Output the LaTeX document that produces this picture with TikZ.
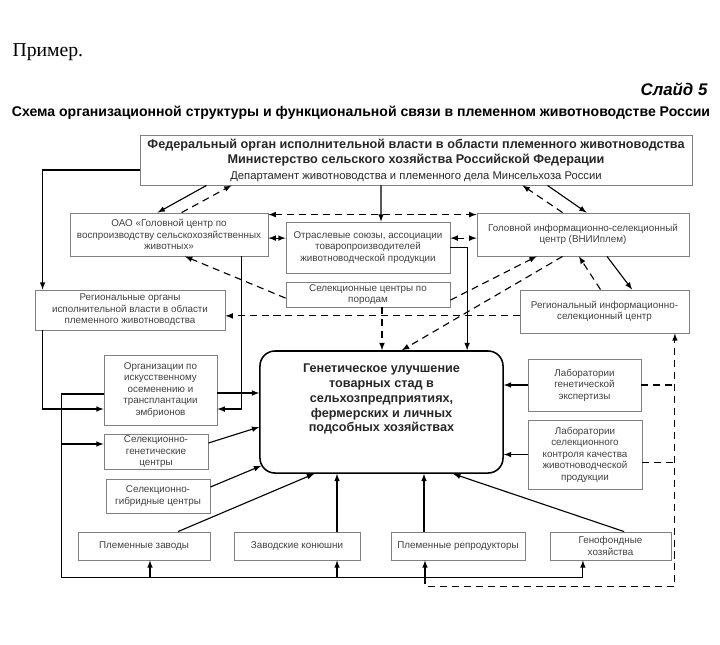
\documentclass[tikz,border=0pt]{standalone}
\usepackage{fontspec}
\setmainfont{Liberation Sans}
\newfontfamily\serifrm{Liberation Serif}
\usetikzlibrary{arrows}
\newcommand\boxtext{\fontsize{7}{8.2}\selectfont}
\newcommand\fedtext{\fontsize{8}{11}\selectfont}
\newcommand\fedbold{\fontsize{9}{11}\selectfont\bfseries}
\newcommand\gentext{\fontsize{9}{10.5}\selectfont\bfseries}
\definecolor{boxgray}{gray}{0.5}
\definecolor{txtgray}{gray}{0.25}

\begin{document}
\begin{tikzpicture}[x=0.025cm, y=-0.025cm, line width=0.8pt, >=latex]
	\tikzstyle{box} = [rectangle, draw=boxgray, line width=0.6pt, align=center, inner sep=1pt, text=txtgray, font=\boxtext]
	\tikzstyle{genbox} = [rectangle, draw, line width=1.1pt, rounded corners=3.75mm, align=center, font=\gentext, text=black!85, minimum width=6.075cm, minimum height=3.05cm]
	\tikzstyle{dline} = [dashed, dash pattern=on 5pt off 3.5pt]
	\useasboundingbox (0,0) rectangle (720,644);
	% header
	\node[anchor=west, inner sep=0pt, font=\serifrm\fontsize{14}{16}\selectfont] (ex) at (12,52) {Пример.};
	\node[anchor=east, inner sep=0pt, font=\fontsize{12}{14}\selectfont\bfseries\itshape] (slide) at (708,89) {Слайд 5};
	\node[font=\fontsize{10}{12}\selectfont\bfseries] (title) at (361,113) {Схема организационной структуры и функциональной связи в племенном животноводстве России};
	% boxes
	\node[box, font=\fedtext, text=black!85, minimum width=13.8cm, minimum height=1.25cm] (fed) at (416,160) {{\fedbold Федеральный орган исполнительной власти в области племенного животноводства}\\ {\fedbold Министерство сельского хозяйства Российской Федерации}\\ Департамент животноводства и племенного дела Минсельхоза России};
	\node[box, minimum width=4.95cm, minimum height=1.075cm] (oao) at (169,234.5) {ОАО «Головной центр по\\ воспроизводству сельскохозяйственных\\ животных»};
	\node[box, minimum width=4.1cm, minimum height=1.275cm] (otr) at (368,247.5) {Отраслевые союзы, ассоциации\\ товаропроизводителей\\ животноводческой продукции};
	\node[box, minimum width=5.3cm, minimum height=1.075cm] (glav) at (583,234.5) {Головной информационно-селекционный\\ центр (ВНИИплем)};
	\node[box, minimum width=4.1cm, minimum height=0.625cm] (selc) at (368,294.5) {Селекционные центры по\\ породам};
	\node[box, minimum width=4.75cm, minimum height=1cm] (regorg) at (130,310) {Региональные органы\\ исполнительной власти в области\\ племенного животноводства};
	\node[box, minimum width=4.225cm, minimum height=1.075cm] (reginf) at (604.5,311.5) {Региональный информационно-\\ селекционный центр};
	\node[box, minimum width=2.825cm, minimum height=1.75cm] (isk) at (160.5,390) {Организации по\\ искусственному\\ осеменению и\\ трансплантации\\ эмбрионов};
	\node[box, minimum width=2.6cm, minimum height=0.85cm] (sgen) at (156,452) {Селекционно-\\ генетические\\ центры};
	\node[box, minimum width=2.6cm, minimum height=0.85cm] (sgib) at (158,496) {Селекционно-\\ гибридные центры};
	\node[genbox] (gen) at (381.5,412) {Генетическое улучшение\\ товарных стад в\\ сельхозпредприятиях,\\ фермерских и личных\\ подсобных хозяйствах\\[9.5pt]\mbox{}};
	\node[box, minimum width=2.825cm, minimum height=1.3cm] (labg) at (584.5,385) {Лаборатории\\ генетической\\ экспертизы};
	\node[box, minimum width=2.85cm, minimum height=1.725cm] (labs) at (585,454.5) {Лаборатории\\ селекционного\\ контроля качества\\ животноводческой\\ продукции};
	\node[box, minimum width=3.3cm, minimum height=0.7cm] (pz) at (144,546) {Племенные заводы};
	\node[box, minimum width=3.15cm, minimum height=0.7cm] (zk) at (297,546) {Заводские конюшни};
	\node[box, minimum width=3.35cm, minimum height=0.7cm] (pr) at (458,546) {Племенные репродукторы};
	\node[box, minimum width=3.025cm, minimum height=0.7cm] (gf) at (610.5,546) {Генофондные\\ хозяйства};
	\coordinate (bl) at ([xshift=-10.5mm]isk.west);
	\coordinate (bus) at ([yshift=-4.25mm]pz.south);
	\coordinate (bus2) at ([yshift=-2.25mm]bus);
	\coordinate (dv) at ([xshift=17.6mm]reginf.south);
	% upper links
	\draw [->] ([xshift=16.75mm]fed.south west) -- ([xshift=22mm]oao.north west);
	\draw [->, dline] ([xshift=28mm]oao.north west) -- ([xshift=23mm]fed.south west);
	\draw [->] ([xshift=-8.75mm]fed.south) -- ([xshift=3.25mm]otr.north);
	\draw [->] ([xshift=-36.25mm]fed.south east) -- ([xshift=27.5mm]glav.north west);
	\draw [->, dline] ([xshift=21.5mm]glav.north west) -- ([xshift=-42.5mm]fed.south east);
	\draw [<->, dline] ([yshift=-0.5mm]oao.north east) -- ([yshift=-0.5mm]glav.north west);
	\draw [<->] ([yshift=-0.9mm]oao.east) -- ([yshift=-0.9mm]oao.east -| otr.west);
	\draw [<->, dline] ([yshift=-0.9mm]glav.west -| otr.east) -- ([yshift=-0.9mm]glav.west);
	\draw [->] (otr.east) -| ([xshift=21.4mm]gen.north);
	\draw [->] ([xshift=6mm]glav.south) -- ([xshift=6.9mm]reginf.north);
	\draw [->, dline] ([xshift=-1mm]reginf.north) -- ([xshift=-1mm]glav.south);
	\draw [->, dline] ([yshift=-1.4mm]selc.east) -- ([xshift=15mm]glav.south west);
	\draw [->, dline] ([xshift=21.5mm]glav.south west) -- ([xshift=5.1mm]gen.north);
	\draw [->, dline] ([yshift=-0.9mm]selc.west) -- ([xshift=4mm]oao.south);
	\draw [->, dline] ([xshift=3.5mm]selc.south) -- ([xshift=3.5mm]selc.south |- gen.north);
	\draw [->, dline] ([yshift=-1.1mm]reginf.west) -- ([yshift=-1.1mm]reginf.west -| regorg.east);
	\draw [->] ([yshift=-2.5mm]fed.west) -| ([xshift=2mm]regorg.north west);
	\draw [->] ([xshift=2mm]regorg.south west) |- ([yshift=-4.75mm]isk.west);
	\draw [->] ([xshift=43mm]oao.south west) |- ([yshift=-4.75mm]isk.east);
	% into the central box
	\draw [->] ([yshift=-0.75mm]isk.east) -- ([yshift=-0.75mm]isk.east -| gen.west);
	\draw [->] ([yshift=2.25mm]sgen.east) -- ([yshift=-3.75mm]gen.west);
	\draw [->] ([yshift=2.25mm]sgib.east) -- ([xshift=0.5mm, yshift=2mm]gen.south west);
	\draw [->] ([xshift=8.5mm]pz.north) -- ([xshift=13.75mm]gen.south west);
	\draw [->] ([xshift=10mm]zk.north) -- ([xshift=10mm]zk.north |- gen.south);
	\draw [->] ([xshift=-8.5mm]pr.north) -- ([xshift=-8.5mm]pr.north |- gen.south);
	\draw [->] ([xshift=3.4mm]gf.north) -- ([xshift=17.9mm]gen.south);
	\draw [->] (labg.west) -- (labg.west -| gen.east);
	\draw [->] (labs.west) -- (labs.west -| gen.east);
	% bus from the AI organisations
	\draw ([yshift=-1mm]isk.west) -| (bl |- bus) -- ([xshift=-6.9mm]gf.south |- bus);
	\draw [->] ([yshift=2mm]sgen.west -| bl) -- ([yshift=2mm]sgen.west);
	\draw [->] ([xshift=1.5mm]pz.south |- bus) -- ([xshift=1.5mm]pz.south);
	\draw [->] ([xshift=10mm]zk.south |- bus) -- ([xshift=10mm]zk.south);
	\draw [->] ([xshift=-8.25mm]pr.south |- bus) -- ([xshift=-8.25mm]pr.south);
	\draw [->] ([xshift=-6.9mm]gf.south |- bus) -- ([xshift=-6.9mm]gf.south);
	% data back to the regional centre
	\draw [->, dline] ([xshift=-8.25mm]pr.south |- bus) -- ([xshift=-8.25mm]pr.south |- bus2) -| (dv);
	\draw [dline] (labg.east) -- (labg.east -| dv);
	\draw [dline] ([yshift=-2.1mm]labs.east) -- ([yshift=-2.1mm]labs.east -| dv);
\end{tikzpicture}
\end{document}
